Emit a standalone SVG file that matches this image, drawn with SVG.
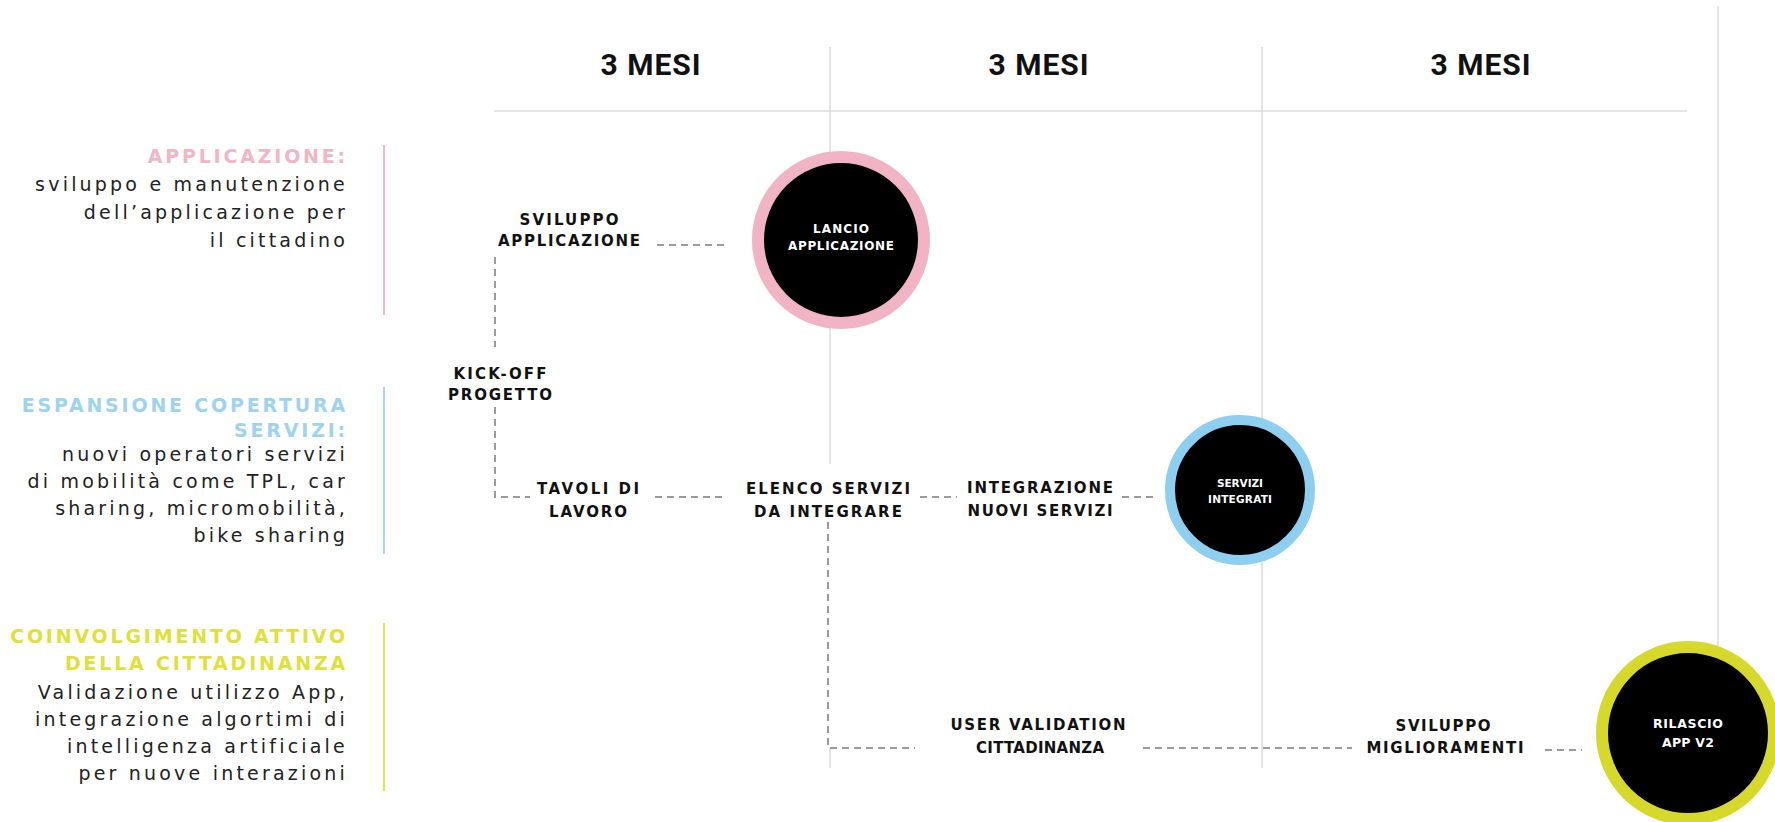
<svg xmlns="http://www.w3.org/2000/svg" width="1775" height="822" viewBox="0 0 1775 822">
<style>
.grid{stroke:#dcdcdc;stroke-width:1.6;fill:none}
.hdr{font-family:Roboto,"Liberation Sans",sans-serif;font-weight:700;font-size:30px;letter-spacing:1px;fill:#111;text-anchor:middle}
.h{font-family:"DejaVu Sans",sans-serif;font-weight:700;font-size:19px;letter-spacing:2.8px;text-anchor:end}
.b{font-family:"DejaVu Sans",sans-serif;font-size:19px;letter-spacing:3.2px;fill:#222;text-anchor:end}
.lbl{font-family:"DejaVu Sans",sans-serif;font-weight:700;font-size:15px;fill:#111;text-anchor:middle}
.ct{font-family:"DejaVu Sans",sans-serif;font-weight:700;fill:#fff;text-anchor:middle}
.dash{stroke:#9a9a9a;stroke-width:2;stroke-dasharray:7 5;fill:none}
.pink{fill:#f0b6c6}.blue{fill:#9dd3ee}.yellow{fill:#dfe03a}
</style>
<rect width="1775" height="822" fill="#fff"/>
<g id="grid">
<line class="grid" x1="494" y1="111" x2="1687" y2="111" stroke-width="3"/>
<line class="grid" x1="830" y1="47" x2="830" y2="464"/>
<line class="grid" x1="830" y1="748" x2="830" y2="768"/>
<line class="grid" x1="1262" y1="47" x2="1262" y2="768"/>
<line class="grid" x1="1718" y1="6" x2="1718" y2="660"/>
</g>
<g id="headers">
<text class="hdr" x="651" y="75">3 MESI</text>
<text class="hdr" x="1039" y="75">3 MESI</text>
<text class="hdr" x="1481" y="75">3 MESI</text>
</g>
<g id="legend-applicazione">
<rect x="383" y="145" width="2" height="170" fill="#f2b8c8"/>
<text class="h pink" x="348" y="163">APPLICAZIONE:</text>
<text class="b" x="348" y="191">sviluppo e manutenzione</text>
<text class="b" x="348" y="219">dell’applicazione per</text>
<text class="b" x="348" y="247">il cittadino</text>
</g>
<g id="legend-espansione">
<rect x="383" y="387" width="2" height="167" fill="#a7d8f0"/>
<text class="h blue" x="348" y="412">ESPANSIONE COPERTURA</text>
<text class="h blue" x="348" y="437">SERVIZI:</text>
<text class="b" x="348" y="461">nuovi operatori servizi</text>
<text class="b" x="348" y="488">di mobilità come TPL, car</text>
<text class="b" x="348" y="515">sharing, micromobilità,</text>
<text class="b" x="348" y="542">bike sharing</text>
</g>
<g id="legend-coinvolgimento">
<rect x="383" y="623" width="2" height="168" fill="#e4e24a"/>
<text class="h yellow" x="348" y="643">COINVOLGIMENTO ATTIVO</text>
<text class="h yellow" x="348" y="670">DELLA CITTADINANZA</text>
<text class="b" x="348" y="699">Validazione utilizzo App,</text>
<text class="b" x="348" y="726">integrazione algortimi di</text>
<text class="b" x="348" y="753">intelligenza artificiale</text>
<text class="b" x="348" y="780">per nuove interazioni</text>
</g>
<g id="connectors">
<path class="dash" d="M495 257V347"/>
<path class="dash" d="M495 407V497H530"/>
<path class="dash" d="M657 245H728"/>
<path class="dash" d="M655 497H727"/>
<path class="dash" d="M920 497H957"/>
<path class="dash" d="M1122 497H1158"/>
<path class="dash" d="M828 522V748H915"/>
<path class="dash" d="M1143 748H1352"/>
<path class="dash" d="M1545 750H1582"/>
</g>
<g id="sviluppo-applicazione">
<text class="lbl" x="569" y="225" textLength="99">SVILUPPO</text>
<text class="lbl" x="569" y="246" textLength="142">APPLICAZIONE</text>
</g>
<g id="kick-off">
<text class="lbl" x="500" y="379" textLength="93">KICK-OFF</text>
<text class="lbl" x="500" y="400" textLength="104">PROGETTO</text>
</g>
<g id="tavoli">
<text class="lbl" x="588" y="494" textLength="102">TAVOLI DI</text>
<text class="lbl" x="588" y="517" textLength="78">LAVORO</text>
</g>
<g id="elenco">
<text class="lbl" x="828" y="494" textLength="164">ELENCO SERVIZI</text>
<text class="lbl" x="828" y="517" textLength="148">DA INTEGRARE</text>
</g>
<g id="integrazione">
<text class="lbl" x="1040" y="493" textLength="146">INTEGRAZIONE</text>
<text class="lbl" x="1040" y="516" textLength="145">NUOVI SERVIZI</text>
</g>
<g id="user-validation">
<text class="lbl" x="1038" y="730" textLength="175">USER VALIDATION</text>
<text class="lbl" x="1040" y="753" textLength="128">CITTADINANZA</text>
</g>
<g id="sviluppo-miglioramenti">
<text class="lbl" x="1443" y="731" textLength="95">SVILUPPO</text>
<text class="lbl" x="1445" y="753" textLength="157">MIGLIORAMENTI</text>
</g>
<g id="lancio">
<circle cx="841" cy="240" r="83" fill="#000" stroke="#f0b4c4" stroke-width="12"/>
<text class="ct" x="841" y="233" font-size="12" textLength="56">LANCIO</text>
<text class="ct" x="841" y="250" font-size="12" textLength="106">APPLICAZIONE</text>
</g>
<g id="servizi-integrati">
<circle cx="1240" cy="490" r="70" fill="#000" stroke="#8ecff0" stroke-width="10"/>
<text class="ct" x="1240" y="487" font-size="10.5" textLength="46">SERVIZI</text>
<text class="ct" x="1240" y="503" font-size="10.5" textLength="64">INTEGRATI</text>
</g>
<g id="rilascio">
<circle cx="1688" cy="733" r="86" fill="#000" stroke="#d6d92b" stroke-width="12"/>
<text class="ct" x="1688" y="728" font-size="12.5" textLength="70">RILASCIO</text>
<text class="ct" x="1688" y="747" font-size="12.5" textLength="52">APP V2</text>
</g>
</svg>
